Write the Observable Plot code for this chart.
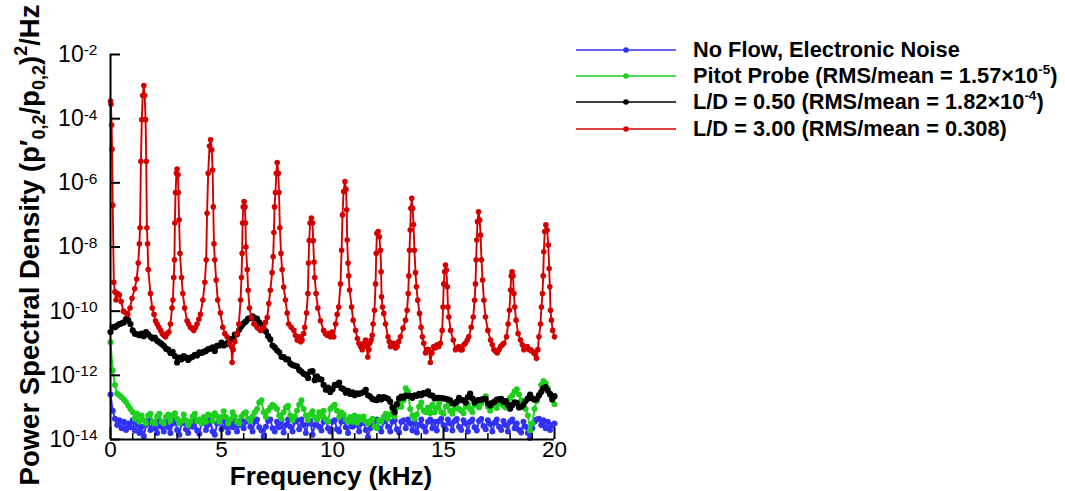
<!DOCTYPE html>
<html><head><meta charset="utf-8">
<script src="https://cdn.jsdelivr.net/npm/d3@7"></script>
<script src="https://cdn.jsdelivr.net/npm/@observablehq/plot@0.6"></script>
<style>
body{margin:0;background:#fff;font-family:"Liberation Sans",Arial,sans-serif;}
#wrap{position:relative;width:1065px;height:491px;overflow:hidden;}
#legend{position:absolute;left:576px;top:37px;}
.row{display:flex;align-items:center;height:26.2px;white-space:nowrap;}
.row svg{margin-right:17px;flex:none;}
.row span{font-weight:bold;font-size:21.8px;color:#000;}
.row sup{font-size:13.5px;vertical-align:0;position:relative;top:-9px;}
</style></head><body><div id="wrap"></div>
<script>
// Frequency bins (kHz) for the three broadband series
const freqGrid = d3.range(201).map(i => i / 10);

// log10 PSD values
const noiseLog = [
-12.6,-13.1,-13.35,-13.55,-13.4,-13.65,-13.45,-13.7,-13.5,-13.62,
-13.4,-13.72,-13.5,-13.8,-13.6,-13.9,-13.55,-13.4,-13.7,-13.45,
-13.65,-13.8,-13.42,-13.6,-13.75,-13.45,-13.62,-13.8,-13.5,-13.38,
-13.7,-13.85,-13.5,-13.4,-13.68,-13.8,-13.45,-13.6,-13.38,-13.72,
-13.82,-13.5,-13.4,-13.7,-13.55,-13.4,-13.75,-13.85,-13.5,-13.42,
-13.68,-13.38,-13.6,-13.78,-13.45,-13.62,-13.4,-13.75,-13.55,-13.38,
-13.65,-13.45,-13.36,-13.6,-13.75,-13.45,-13.38,-13.62,-13.72,-13.9,
-13.6,-13.42,-13.38,-13.65,-13.75,-13.45,-13.62,-13.4,-13.78,-13.55,
-13.38,-13.6,-13.75,-13.45,-13.4,-13.68,-13.38,-13.55,-13.8,-13.5,
-13.42,-13.85,-13.55,-13.38,-13.6,-13.72,-13.45,-13.38,-13.65,-13.75,
-13.45,-13.4,-13.68,-13.75,-13.45,-13.38,-13.62,-13.8,-13.45,-13.6,
-13.38,-13.55,-13.75,-13.5,-13.4,-13.7,-13.92,-13.65,-13.5,-13.42,
-13.38,-13.65,-13.75,-13.45,-13.38,-13.6,-13.75,-13.45,-13.4,-13.68,
-13.78,-13.45,-13.4,-13.65,-13.38,-13.5,-13.72,-13.45,-13.78,-13.55,
-13.38,-13.6,-13.75,-13.45,-13.38,-13.65,-13.45,-13.72,-13.42,-13.35,
-13.55,-13.68,-13.38,-13.5,-13.72,-13.42,-13.36,-13.6,-13.7,-13.4,
-13.5,-13.75,-13.45,-13.38,-13.62,-13.72,-13.42,-13.36,-13.58,-13.68,
-13.4,-13.52,-13.75,-13.48,-13.38,-13.6,-13.7,-13.42,-13.55,-13.75,
-13.45,-13.38,-13.65,-13.5,-13.7,-13.78,-13.45,-13.6,-13.8,-13.95,
-13.65,-13.45,-13.38,-13.35,-13.55,-13.4,-13.65,-13.45,-13.7,-13.55,
-13.5];

const pitotLog = [
-10.97,-11.84,-12.3,-12.57,-12.62,-12.68,-12.75,-12.83,-12.95,-13.05,
-13.15,-13.35,-13.2,-13.45,-13.25,-13.4,-13.5,-13.25,-13.2,-13.45,
-13.5,-13.28,-13.2,-13.45,-13.5,-13.3,-13.22,-13.42,-13.25,-13.18,
-13.35,-13.5,-13.42,-13.22,-13.4,-13.55,-13.45,-13.28,-13.2,-13.42,
-13.38,-13.5,-13.3,-13.45,-13.22,-13.25,-13.42,-13.18,-13.28,-13.45,
-13.3,-13.12,-13.3,-13.5,-13.38,-13.15,-13.28,-13.45,-13.5,-13.28,
-13.2,-13.15,-13.35,-13.42,-13.28,-13.15,-13.05,-12.85,-12.78,-13.15,
-13.3,-13.1,-13.0,-12.92,-12.98,-13.05,-13.25,-13.35,-13.15,-13.0,
-12.95,-13.25,-13.4,-13.28,-13.1,-12.92,-12.78,-13.05,-13.25,-13.4,
-13.22,-13.12,-13.3,-13.38,-13.15,-13.28,-13.1,-13.38,-13.45,-13.05,
-12.98,-12.92,-13.1,-13.3,-13.15,-13.22,-13.38,-13.45,-13.3,-13.45,
-13.25,-13.48,-13.3,-13.38,-13.28,-13.45,-13.5,-13.42,-13.35,-13.6,
-13.65,-13.4,-13.45,-13.3,-13.2,-13.35,-13.22,-13.15,-13.28,-13.0,
-12.8,-12.98,-12.78,-12.4,-12.5,-13.05,-13.25,-13.35,-13.22,-12.98,
-12.85,-13.1,-13.15,-13.0,-13.18,-12.92,-13.15,-13.02,-12.88,-13.15,
-13.2,-12.98,-12.92,-13.1,-13.2,-13.05,-12.85,-13.05,-13.1,-13.18,
-12.98,-12.9,-13.05,-13.15,-12.92,-12.85,-13.0,-12.88,-12.75,-12.65,
-12.98,-13.1,-12.95,-12.9,-13.02,-12.88,-12.78,-12.95,-13.0,-12.8,
-12.7,-12.62,-12.5,-12.43,-12.6,-12.78,-12.92,-13.05,-13.25,-13.72,
-13.5,-13.05,-12.8,-12.6,-12.3,-12.18,-12.25,-12.4,-12.62,-12.75,
-12.9];

const ld050Log = [
-10.65,-10.5,-10.5,-10.45,-10.4,-10.38,-10.35,-10.25,-10.28,-10.4,
-10.6,-10.7,-10.72,-10.75,-10.7,-10.78,-10.65,-10.72,-10.8,-10.85,
-10.82,-10.92,-10.97,-11.02,-11.08,-11.17,-11.2,-11.3,-11.27,-11.4,
-11.6,-11.45,-11.5,-11.4,-11.45,-11.52,-11.45,-11.42,-11.36,-11.38,
-11.28,-11.3,-11.27,-11.24,-11.18,-11.17,-11.13,-11.24,-11.08,-11.07,
-10.98,-11.07,-11.03,-10.97,-10.88,-10.86,-10.73,-10.72,-10.58,-10.47,
-10.38,-10.32,-10.23,-10.22,-10.16,-10.22,-10.23,-10.35,-10.43,-10.57,
-10.63,-10.78,-10.88,-11.07,-11.13,-11.22,-11.28,-11.42,-11.43,-11.5,
-11.5,-11.63,-11.68,-11.7,-11.72,-11.83,-11.88,-11.95,-11.98,-12.08,
-11.88,-11.87,-12.15,-12.03,-12.12,-12.13,-12.3,-12.45,-12.38,-12.52,
-12.43,-12.3,-12.3,-12.23,-12.4,-12.43,-12.54,-12.48,-12.58,-12.53,
-12.62,-12.56,-12.58,-12.55,-12.52,-12.45,-12.62,-12.66,-12.74,-12.76,
-12.77,-12.68,-12.75,-12.68,-12.7,-12.73,-12.82,-13.0,-13.15,-12.9,
-12.72,-12.66,-12.7,-12.63,-12.64,-12.64,-12.7,-12.62,-12.64,-12.58,
-12.62,-12.55,-12.57,-12.5,-12.62,-12.63,-12.72,-12.7,-12.7,-12.71,
-12.72,-12.73,-12.75,-12.78,-12.87,-12.88,-12.82,-12.7,-12.77,-12.78,
-12.85,-12.68,-12.57,-12.72,-12.85,-12.78,-12.77,-12.76,-12.74,-12.73,
-12.87,-12.94,-12.86,-12.82,-12.76,-12.75,-12.73,-12.82,-12.8,-12.92,
-13.04,-12.93,-12.84,-12.86,-13.0,-12.98,-12.92,-12.8,-12.72,-12.6,
-12.72,-12.76,-12.74,-12.63,-12.52,-12.4,-12.37,-12.48,-12.58,-12.75,
-12.65];

// L/D = 3.00: [frequency kHz, log10 PSD]
const ld300 = [
[0,-3.45],[0.02,-3.55],[0.05,-4.2],[0.07,-4.95],[0.1,-6.7],[0.15,-9.1],[0.2,-9.4],[0.25,-9.65],[0.32,-9.45],[0.4,-9.5],[0.48,-9.7],[0.58,-10.0],[0.68,-10.05],[0.78,-10.1],[0.88,-9.9],[0.97,-9.6],[1.09,-9.3],[1.18,-9.0],[1.25,-8.5],[1.3,-7.9],[1.33,-7.4],[1.37,-5.33],[1.41,-4.03],[1.45,-3.28],[1.5,-2.97],[1.54,-3.28],[1.58,-4.03],[1.61,-5.33],[1.64,-7.4],[1.67,-7.9],[1.7,-8.7],[1.8,-9.45],[1.88,-9.9],[1.96,-10.1],[2.03,-10.3],[2.1,-10.4],[2.18,-10.5],[2.26,-10.6],[2.33,-10.7],[2.4,-10.75],[2.48,-10.8],[2.55,-10.7],[2.63,-10.65],[2.7,-10.4],[2.77,-9.9],[2.81,-9.65],[2.85,-8.95],[2.88,-8.4],[2.9,-7.25],[2.93,-6.3],[2.97,-5.7],[3.0,-5.57],[3.04,-5.75],[3.06,-6.3],[3.09,-7.15],[3.13,-8.2],[3.2,-8.95],[3.26,-9.45],[3.34,-9.9],[3.45,-10.3],[3.52,-10.4],[3.6,-10.5],[3.68,-10.55],[3.75,-10.6],[3.83,-10.5],[3.9,-10.4],[3.98,-10.25],[4.05,-10.1],[4.16,-9.65],[4.25,-9.1],[4.31,-8.4],[4.35,-6.95],[4.4,-5.7],[4.46,-4.85],[4.51,-4.66],[4.56,-4.97],[4.6,-5.6],[4.63,-6.75],[4.66,-7.9],[4.7,-8.4],[4.76,-9.03],[4.83,-9.65],[4.95,-10.06],[5.06,-10.5],[5.15,-10.7],[5.25,-10.8],[5.36,-11.0],[5.44,-11.1],[5.48,-11.6],[5.52,-11.2],[5.6,-10.95],[5.7,-10.7],[5.78,-10.4],[5.86,-9.65],[5.9,-8.95],[5.93,-8.2],[5.95,-7.25],[5.98,-6.75],[6.02,-6.58],[6.06,-6.75],[6.08,-7.25],[6.1,-8.0],[6.16,-8.7],[6.2,-9.35],[6.26,-9.9],[6.35,-10.2],[6.46,-10.4],[6.6,-10.5],[6.68,-10.55],[6.76,-10.6],[6.84,-10.55],[6.9,-10.5],[6.98,-10.35],[7.06,-10.2],[7.13,-9.76],[7.2,-9.35],[7.28,-8.8],[7.33,-8.3],[7.36,-7.55],[7.39,-6.75],[7.43,-6.3],[7.47,-5.7],[7.51,-5.37],[7.56,-5.7],[7.59,-6.3],[7.63,-7.4],[7.68,-8.2],[7.73,-8.7],[7.8,-9.25],[7.88,-9.65],[7.96,-10.06],[8.03,-10.4],[8.14,-10.5],[8.26,-10.6],[8.33,-10.75],[8.41,-10.9],[8.5,-10.8],[8.56,-10.95],[8.63,-10.9],[8.7,-10.7],[8.75,-10.5],[8.83,-10.06],[8.89,-9.45],[8.92,-8.5],[8.95,-7.8],[8.99,-7.25],[9.05,-7.1],[9.1,-7.25],[9.13,-7.8],[9.17,-8.47],[9.2,-8.95],[9.26,-9.45],[9.34,-9.9],[9.46,-10.3],[9.6,-10.6],[9.68,-10.7],[9.76,-10.75],[9.84,-10.7],[9.91,-10.8],[9.98,-10.65],[10.06,-10.8],[10.14,-10.4],[10.21,-10.1],[10.28,-9.87],[10.36,-9.15],[10.41,-8.1],[10.45,-7.0],[10.5,-6.27],[10.56,-5.96],[10.61,-6.2],[10.64,-6.84],[10.66,-7.78],[10.7,-8.5],[10.73,-8.9],[10.77,-9.34],[10.86,-9.87],[10.93,-10.28],[11.04,-10.6],[11.12,-10.85],[11.19,-11.0],[11.27,-11.1],[11.34,-11.2],[11.42,-11.0],[11.49,-10.9],[11.54,-11.1],[11.59,-11.43],[11.64,-11.2],[11.68,-11.0],[11.74,-10.9],[11.79,-10.75],[11.83,-10.4],[11.89,-9.97],[11.94,-9.15],[11.97,-8.2],[12.0,-7.57],[12.06,-7.52],[12.11,-7.68],[12.16,-8.1],[12.19,-8.77],[12.21,-9.55],[12.25,-9.87],[12.31,-10.07],[12.39,-10.4],[12.5,-10.8],[12.56,-10.95],[12.61,-11.1],[12.68,-11.05],[12.76,-11.0],[12.84,-11.15],[12.91,-11.1],[12.98,-10.95],[13.06,-10.8],[13.18,-10.53],[13.29,-10.28],[13.36,-9.97],[13.41,-9.45],[13.44,-8.9],[13.47,-8.1],[13.5,-7.47],[13.53,-6.79],[13.57,-6.48],[13.61,-6.79],[13.65,-7.3],[13.69,-8.1],[13.74,-8.8],[13.78,-9.24],[13.84,-9.66],[13.92,-10.07],[13.99,-10.5],[14.05,-10.8],[14.11,-11.0],[14.19,-11.3],[14.27,-11.2],[14.34,-11.2],[14.41,-11.6],[14.48,-11.3],[14.56,-11.1],[14.64,-11.15],[14.71,-11.05],[14.79,-11.1],[14.86,-11.0],[14.94,-10.6],[14.98,-9.87],[15.01,-9.15],[15.05,-8.77],[15.09,-8.56],[15.13,-8.72],[15.17,-9.24],[15.2,-9.87],[15.24,-10.18],[15.32,-10.6],[15.44,-10.9],[15.54,-11.2],[15.62,-11.15],[15.69,-11.1],[15.77,-11.2],[15.84,-11.2],[15.92,-11.05],[15.99,-11.0],[16.07,-10.9],[16.14,-10.8],[16.25,-10.5],[16.34,-10.18],[16.4,-9.66],[16.44,-9.15],[16.47,-8.4],[16.5,-7.78],[16.53,-7.21],[16.58,-6.9],[16.63,-7.16],[16.67,-7.63],[16.71,-8.4],[16.76,-9.03],[16.82,-9.66],[16.89,-10.18],[17.0,-10.6],[17.12,-10.9],[17.2,-11.05],[17.27,-11.2],[17.35,-11.25],[17.42,-11.3],[17.5,-11.2],[17.57,-11.1],[17.65,-11.05],[17.72,-11.0],[17.84,-10.8],[17.91,-10.4],[17.97,-9.97],[18.02,-9.34],[18.05,-8.9],[18.09,-8.77],[18.13,-8.9],[18.17,-9.45],[18.21,-9.87],[18.27,-10.28],[18.36,-10.7],[18.47,-10.9],[18.55,-11.05],[18.62,-11.2],[18.7,-11.15],[18.77,-11.1],[18.85,-11.2],[18.92,-11.2],[19.0,-11.25],[19.07,-11.3],[19.14,-11.35],[19.19,-11.47],[19.25,-11.2],[19.3,-10.8],[19.37,-10.4],[19.41,-9.87],[19.46,-9.45],[19.49,-8.9],[19.52,-8.15],[19.56,-7.52],[19.61,-7.31],[19.67,-7.47],[19.72,-7.94],[19.76,-8.67],[19.79,-9.24],[19.82,-9.97],[19.86,-10.28],[19.92,-10.6],[20.0,-10.8]];

const seriesNames = ["No Flow, Electronic Noise", "Pitot Probe", "L/D = 0.50", "L/D = 3.00"];
const seriesColors = ["#3232f5", "#1ecf1e", "#000000", "#d40000"];
const xTickValues = [0, 5, 10, 15, 20];
const xMinorValues = [1,2,3,4,6,7,8,9,11,12,13,14,16,17,18,19];
const yTickValues = [1e-2, 1e-4, 1e-6, 1e-8, 1e-10, 1e-12, 1e-14];

const gridRows = (logs, s) => logs.map((v, i) => ({f: freqGrid[i], p: Math.pow(10, v), s}));
const noise = gridRows(noiseLog, 0);
const pitot = gridRows(pitotLog, 1);
const ld050 = gridRows(ld050Log, 2);
const ld300Rows = ld300.map(([f, v]) => ({f, p: Math.pow(10, v), s: 3}));

const dotR = [3, 3, 3.1, 2.8];
const seriesMarks = [];
[noise, pitot, ld050, ld300Rows].forEach((rows, k) => {
  seriesMarks.push(Plot.line(rows, {x: "f", y: "p", stroke: seriesColors[k], strokeWidth: 1.9}));
  seriesMarks.push(Plot.dot(rows, {x: "f", y: "p", fill: seriesColors[k], r: dotR[k], stroke: "none"}));
});

const chart = Plot.plot({
  width: 1065, height: 491,
  marginLeft: 110, marginRight: 511, marginTop: 54, marginBottom: 52,
  style: {fontFamily: "'Liberation Sans', Arial, sans-serif", background: "#fff", color: "#000", overflow: "visible"},
  x: {domain: [0, 20]},
  y: {type: "log", domain: [1e-14, 1e-2]},
  marks: [
    Plot.axisX({ticks: xTickValues, tickSize: 0, tickPadding: 2, fontSize: 22.5, label: null, tickFormat: d => String(d)}),
    Plot.axisY({ticks: yTickValues, tickSize: 0, tickPadding: 13, fontSize: 23, label: null,
      tickFormat: d => "10^" + Math.round(Math.log10(d))}),
    ...seriesMarks,
    Plot.tickX(xMinorValues, {x: d => d, insetTop: 379, stroke: "#000", strokeWidth: 1.5}),
    Plot.tickX(xTickValues, {x: d => d, insetTop: 373, stroke: "#000", strokeWidth: 2}),
    Plot.tickY(yTickValues, {y: d => d, insetRight: 434, stroke: "#000", strokeWidth: 2}),
    Plot.ruleX([0], {stroke: "#000", strokeWidth: 2}),
    Plot.ruleY([1e-14], {stroke: "#000", strokeWidth: 2})
  ]
});

// superscript exponents on y tick labels
d3.select(chart).selectAll('[aria-label="y-axis tick label"] text').each(function() {
  const t = d3.select(this);
  const [base, exp] = t.text().split("^");
  t.text(null);
  t.append("tspan").text(base);
  t.append("tspan").attr("dy", "-0.42em").attr("font-size", "15.5px").text(exp);
});

const svg = d3.select(chart);
// x-axis title
svg.append("text").attr("x", 331).attr("y", 485).attr("text-anchor", "middle")
  .attr("font-size", 26).attr("font-weight", "bold").text("Frequency (kHz)");
// y-axis title
const yt = svg.append("text").attr("transform", "translate(39,245) rotate(-90)")
  .attr("text-anchor", "middle").attr("font-size", 27.5).attr("font-weight", "bold");
yt.append("tspan").text("Power Spectral Density (p\u2032");
yt.append("tspan").attr("font-size", 18).attr("dy", 6).text("0,2");
yt.append("tspan").attr("dy", -6).text("/p");
yt.append("tspan").attr("font-size", 18).attr("dy", 6).text("0,2");
yt.append("tspan").attr("dy", -6).text(")");
yt.append("tspan").attr("font-size", 18).attr("dy", -12).text("2");
yt.append("tspan").attr("dy", 12).text("/Hz");

const wrap = document.getElementById("wrap");
wrap.appendChild(chart);

// legend
const legendLabels = [
  "No Flow, Electronic Noise",
  "Pitot Probe (RMS/mean = 1.57\u00d710<sup>-5</sup>)",
  "L/D = 0.50 (RMS/mean = 1.82\u00d710<sup>-4</sup>)",
  "L/D = 3.00 (RMS/mean = 0.308)"
];
const legend = document.createElement("div");
legend.id = "legend";
legendLabels.forEach((lab, k) => {
  const row = document.createElement("div");
  row.className = "row";
  row.innerHTML = `<svg width="100" height="10"><line x1="0" x2="100" y1="5" y2="5" stroke="${seriesColors[k]}" stroke-width="1.6"/><circle cx="50" cy="5" r="2.8" fill="${seriesColors[k]}"/></svg><span>${lab}</span>`;
  legend.appendChild(row);
});
wrap.appendChild(legend);
</script>
</body></html>
